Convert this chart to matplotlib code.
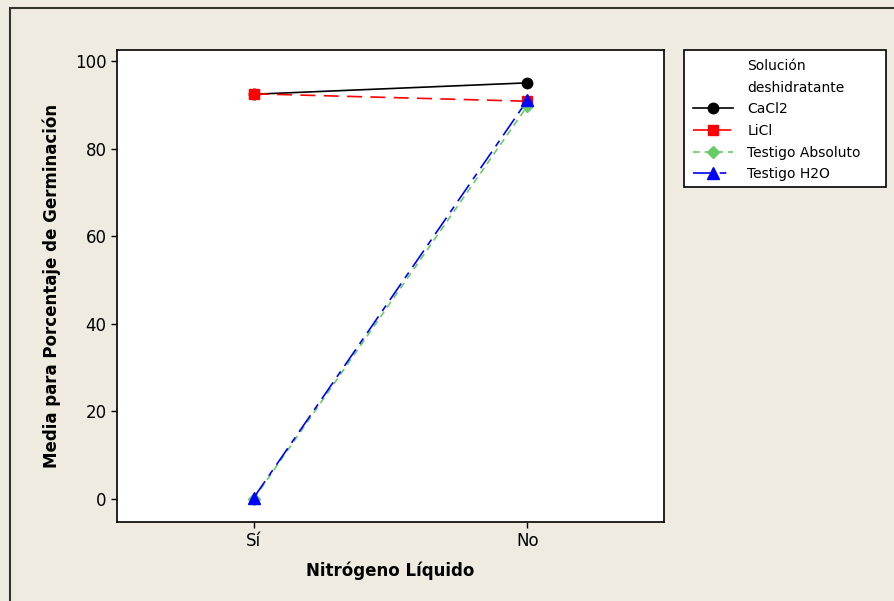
import matplotlib
matplotlib.use("Agg")
import matplotlib.pyplot as plt
from matplotlib.patches import Rectangle
from matplotlib.lines import Line2D

categories = ["Sí", "No"]
series_names = ["CaCl2", "LiCl", "Testigo Absoluto", "Testigo H2O"]
legend_title = ["Solución", "deshidratante"]
cacl2 = [92.4, 95.0]
licl = [92.5, 90.8]
testigo_abs = [0.0, 89.7]
testigo_h2o = [0.3, 91.0]
yticks = [0, 20, 40, 60, 80, 100]

bg = "#EFEBE0"
fig = plt.figure(figsize=(8.94, 6.01), dpi=100, facecolor=bg)
W, H = 894, 601
fig.patches.append(Rectangle((10 / W, -0.1), 1.2, (601 - 8) / H + 0.1,
                             transform=fig.transFigure, fill=False,
                             edgecolor="#333333", linewidth=1.5, zorder=0))

ax = fig.add_axes([117 / W, 1 - 522 / H, (664 - 117) / W, (522 - 50) / H])
ax.set_facecolor("white")
x = [1, 2]

styles = [
    dict(color="black", linestyle="-", marker="o", markersize=7.5),
    dict(color="#FF0000", linestyle=(0, (9, 5)), marker="s", markersize=7),
    dict(color="#66CC66", linestyle=(0, (4, 3)), marker="D", markersize=6.5),
    dict(color="#0000FF", linestyle=(0, (12, 4, 4, 4)), marker="^", markersize=8),
]
data = [cacl2, licl, testigo_abs, testigo_h2o]
handles = []
for name, vals, st in zip(series_names, data, styles):
    l, = ax.plot(x, vals, linewidth=1.2, label=name, **st)
    handles.append(l)

ax.set_xlim(0.5, 2.5)
ax.set_ylim(-5.25, 102.5)
ax.set_xticks(x)
ax.set_xticklabels(categories)
ax.set_yticks(yticks)
ax.tick_params(labelsize=12, length=4, width=1, direction="out")
for sp in ax.spines.values():
    sp.set_linewidth(1.2)
ax.set_xlabel("Nitrógeno Líquido", fontsize=12, fontweight="bold", labelpad=8)
ax.set_ylabel("Media para Porcentaje de Germinación", fontsize=12,
              fontweight="bold", labelpad=10)

# legend frame
fig.patches.append(Rectangle((684 / W, 1 - 187 / H), (886 - 684) / W, (187 - 50) / H,
                             transform=fig.transFigure, facecolor="white",
                             edgecolor="black", linewidth=1.2, zorder=1))
blank = [Line2D([], [], linestyle="none") for _ in legend_title]
leg = fig.legend(handles=blank + handles, labels=legend_title + series_names,
                 loc="upper left", bbox_to_anchor=(693 / W, 1 - 59 / H),
                 fontsize=10, frameon=False, borderaxespad=0, borderpad=0,
                 handlelength=2.9, handletextpad=1.0, labelspacing=0.55)
leg.set_zorder(2)

fig.savefig("out.png", dpi=100, facecolor=bg)
